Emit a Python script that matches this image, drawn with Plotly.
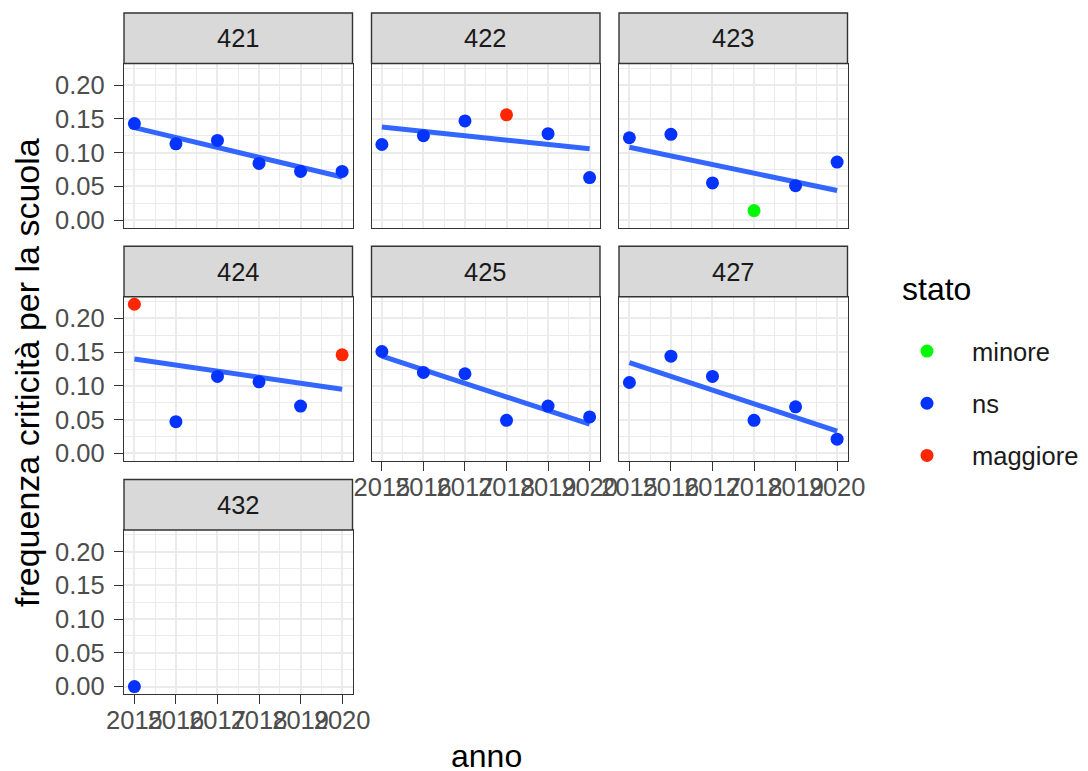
import numpy as np
import plotly.graph_objects as go

W, H = 1088, 771
OFF = 8  # page body margin of the browser page

# ---------------- data ----------------
panels = ["421", "422", "423", "424", "425", "427", "432"]
years = [2015, 2016, 2017, 2018, 2019, 2020]
years_432 = [2015]

freq_421 = [0.143, 0.113, 0.118, 0.084, 0.072, 0.072]
freq_422 = [0.112, 0.125, 0.147, 0.156, 0.128, 0.063]
freq_423 = [0.122, 0.127, 0.055, 0.014, 0.051, 0.086]
freq_424 = [0.221, 0.047, 0.114, 0.106, 0.070, 0.146]
freq_425 = [0.151, 0.120, 0.118, 0.049, 0.070, 0.054]
freq_427 = [0.105, 0.144, 0.114, 0.049, 0.069, 0.021]
freq_432 = [0.000]

stato_421 = ["ns", "ns", "ns", "ns", "ns", "ns"]
stato_422 = ["ns", "ns", "ns", "maggiore", "ns", "ns"]
stato_423 = ["ns", "ns", "ns", "minore", "ns", "ns"]
stato_424 = ["maggiore", "ns", "ns", "ns", "ns", "maggiore"]
stato_425 = ["ns", "ns", "ns", "ns", "ns", "ns"]
stato_427 = ["ns", "ns", "ns", "ns", "ns", "ns"]
stato_432 = ["ns"]

stato_levels = ["minore", "ns", "maggiore"]
stato_colors = ["#00F900", "#0433FF", "#FF2600"]

y_ticks = [0.00, 0.05, 0.10, 0.15, 0.20]

panel_x = {"421": years, "422": years, "423": years, "424": years,
           "425": years, "427": years, "432": years_432}
panel_y = {"421": freq_421, "422": freq_422, "423": freq_423, "424": freq_424,
           "425": freq_425, "427": freq_427, "432": freq_432}
panel_s = {"421": stato_421, "422": stato_422, "423": stato_423, "424": stato_424,
           "425": stato_425, "427": stato_427, "432": stato_432}


def PX(v):
    return (v - OFF) / W


def PY(v):
    return 1 - (v - OFF) / H


# ---------------- layout geometry (page pixels) ----------------
col_left = [124, 371.5, 619]
pw = 228.5
row_top = [63.5, 296.8, 530]
ph = 164
strip_h = 50.5

all_y = np.concatenate([np.array(v, float) for v in panel_y.values()])
ymin, ymax = all_y.min(), all_y.max()
ypad = 0.05 * (ymax - ymin)
yr = [ymin - ypad, ymax + ypad]
xpad = 0.05 * (max(years) - min(years))
xr = [min(years) - xpad, max(years) + xpad]

GRID = "#EBEBEB"
DARK = "#333333"
FONT = "Liberation Sans, Arial, Helvetica, sans-serif"
FS = 25.5

fig = go.Figure()
shapes = []
annotations = []

for i, p in enumerate(panels):
    r, c = divmod(i, 3)
    xid = "x" if i == 0 else f"x{i+1}"
    yid = "y" if i == 0 else f"y{i+1}"
    xkey = "xaxis" if i == 0 else f"xaxis{i+1}"
    ykey = "yaxis" if i == 0 else f"yaxis{i+1}"

    x0 = col_left[c]
    y0 = row_top[r]
    show_x = (i + 3) >= len(panels)
    show_y = c == 0

    fig.layout[xkey] = dict(
        domain=[PX(x0), PX(x0 + pw)], range=xr, anchor=yid, automargin=False,
        tickmode="array", tickvals=years, ticktext=[str(v) for v in years],
        showticklabels=show_x, ticks="outside" if show_x else "",
        ticklen=9, tickwidth=1.4, tickcolor=DARK, tickangle=0,
        ticklabelstandoff=-6,
        tickfont=dict(size=FS, color="#4D4D4D", family=FONT),
        showgrid=True, gridcolor=GRID, gridwidth=2,
        minor=dict(tick0=2015, dtick=0.5, showgrid=True, gridcolor=GRID, gridwidth=1, ticks=""),
        zeroline=False, showline=True, mirror=True, linecolor=DARK, linewidth=1.4,
        fixedrange=True,
    )
    fig.layout[ykey] = dict(
        domain=[PY(y0 + ph), PY(y0)], range=yr, anchor=xid, automargin=False,
        tickmode="array", tickvals=y_ticks, ticktext=[f"{v:.2f}" for v in y_ticks],
        showticklabels=show_y, ticks="outside" if show_y else "",
        ticklen=9, tickwidth=1.4, tickcolor=DARK,
        ticklabelstandoff=4,
        tickfont=dict(size=FS, color="#4D4D4D", family=FONT),
        showgrid=True, gridcolor=GRID, gridwidth=2,
        minor=dict(tick0=0, dtick=0.025, showgrid=True, gridcolor=GRID, gridwidth=1, ticks=""),
        zeroline=False, showline=True, mirror=True, linecolor=DARK, linewidth=1.4,
        fixedrange=True,
    )

    # strip
    shapes.append(dict(type="rect", xref="paper", yref="paper",
                       x0=PX(x0), x1=PX(x0 + pw), y0=PY(y0), y1=PY(y0 - strip_h),
                       fillcolor="#D9D9D9", line=dict(color=DARK, width=1.4), layer="above"))
    annotations.append(dict(text=p, xref="paper", yref="paper",
                            x=PX(x0 + pw / 2), y=PY(y0 - strip_h / 2),
                            showarrow=False, xanchor="center", yanchor="middle",
                            font=dict(size=FS, color="#1A1A1A", family=FONT)))

    xs = np.array(panel_x[p], float)
    ys = np.array(panel_y[p], float)
    ss = panel_s[p]

    # linear fit (geom_smooth method = "lm", se = FALSE)
    if len(xs) >= 2:
        k, b = np.polyfit(xs, ys, 1)
        lx = np.array([xs.min(), xs.max()])
        fig.add_trace(go.Scatter(x=lx, y=k * lx + b, mode="lines", xaxis=xid, yaxis=yid,
                                 line=dict(color="#3366FF", width=5), showlegend=False,
                                 hoverinfo="skip"))

    for lvl, col in zip(stato_levels, stato_colors):
        px_ = [xv for xv, s in zip(xs, ss) if s == lvl]
        py_ = [yv for yv, s in zip(ys, ss) if s == lvl]
        if not px_:
            continue
        fig.add_trace(go.Scatter(x=px_, y=py_, mode="markers", xaxis=xid, yaxis=yid,
                                 marker=dict(color=col, size=13),
                                 name=lvl, legendgroup=lvl, showlegend=False))

# legend entries (in level order)
for rank, (lvl, col) in enumerate(zip(stato_levels, stato_colors), start=1):
    fig.add_trace(go.Scatter(x=[None], y=[None], mode="markers", xaxis="x", yaxis="y",
                             marker=dict(color=col, size=13), name=lvl, legendgroup=lvl,
                             legendrank=rank, showlegend=True))

# legend title and axis titles
annotations.append(dict(text="stato", xref="paper", yref="paper",
                        x=PX(900), y=PY(289), showarrow=False,
                        xanchor="left", yanchor="middle",
                        font=dict(size=32, color="black", family=FONT)))
annotations.append(dict(text="anno", xref="paper", yref="paper",
                        x=PX(486), y=PY(756), showarrow=False,
                        xanchor="center", yanchor="middle",
                        font=dict(size=32, color="black", family=FONT)))
annotations.append(dict(text="frequenza criticità per la scuola", xref="paper", yref="paper",
                        x=PX(27), y=PY(373), showarrow=False, textangle=-90,
                        xanchor="center", yanchor="middle",
                        font=dict(size=34, color="black", family=FONT)))

fig.update_layout(
    width=W, height=H,
    margin=dict(l=0, r=0, t=0, b=0, autoexpand=False),
    paper_bgcolor="white", plot_bgcolor="white",
    font=dict(family=FONT),
    shapes=shapes, annotations=annotations,
    legend=dict(x=PX(882), y=PY(403.5), xanchor="left", yanchor="middle",
                bgcolor="rgba(0,0,0,0)", traceorder="grouped", tracegroupgap=16,
                itemwidth=80,
                font=dict(size=FS, color="#1A1A1A", family=FONT)),
    showlegend=True,
)

fig.write_html("out.html")
